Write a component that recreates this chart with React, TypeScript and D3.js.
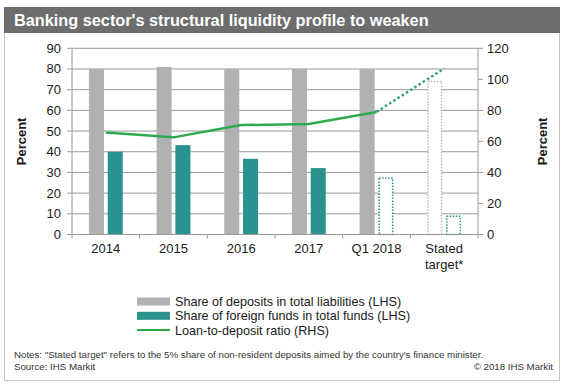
import React from 'react';
import * as d3 from 'd3';

const categories = ['2014', '2015', '2016', '2017', 'Q1 2018', 'Stated target*'];
const depositsShare = [80, 81, 80, 80, 80, 74];
const foreignFunds = [40, 43.2, 36.6, 32.1, 27.3, 8.8];
const loanToDeposit = [65.8, 62.6, 70.5, 71.2, 79, 107];
// which points are projections (drawn dotted)
const depositsProjected = [false, false, false, false, false, true];
const foreignProjected = [false, false, false, false, true, true];
const leftTicks = [0, 10, 20, 30, 40, 50, 60, 70, 80, 90];
const rightTicks = [0, 20, 40, 60, 80, 100, 120];
const legendItems = [
    { label: 'Share of deposits in total liabilities (LHS)', type: 'bar', color: '#b1b1b4' },
    { label: 'Share of foreign funds in total funds (LHS)', type: 'bar', color: '#2b938f' },
    { label: 'Loan-to-deposit ratio (RHS)', type: 'line', color: '#2eaa4e' },
];

const W = 564;
const H = 386;
const FONT = 'Liberation Sans, Arial, sans-serif';
const GREY = '#b1b1b4';
const TEAL = '#2b938f';
const GREEN = '#2eaa4e';
const DOTTED_GREEN = '#35a176';

const App = () => {
    const x0 = 72;
    const x1 = 478;
    const yTop = 48.3;
    const yBottom = 234.5;

    const x = d3.scaleBand().domain(categories).range([x0, x1]).padding(0);
    const group = d3.scaleBand().domain(['dep', 'for']).range([0, x.bandwidth() * 0.5]).paddingInner(0.2);
    const groupOffset = x.bandwidth() * 0.25;
    const yLeft = d3.scaleLinear().domain([0, 90]).range([yBottom, yTop]);
    const yRight = d3.scaleLinear().domain([0, 120]).range([yBottom, yTop]);

    const cx = (c) => x(c) + x.bandwidth() / 2;
    const linePts = categories.map((c, i) => [cx(c), yRight(loanToDeposit[i])]);
    const line = d3.line();
    const solidPts = linePts.slice(0, 5);
    const dottedPts = linePts.slice(4);

    const boundaries = categories.map((c) => x(c)).concat([x1]);

    return (
        <div style={{ position: 'absolute', left: 0, top: 0 }}>
            <svg width={W} height={H} style={{ display: 'block', fontFamily: FONT }}>
                <rect x={0} y={0} width={W} height={H} fill="#fff" />
                {/* frame */}
                <rect x={4.5} y={7.5} width={555} height={373} fill="#fff" stroke="#c8c8c8" />
                <rect x={4} y={7} width={556} height={26} fill="#6d6d6d" />
                <text x={14} y={26} fill="#fff" fontSize={16.3} fontWeight="bold">
                    Banking sector's structural liquidity profile to weaken
                </text>

                {/* gridlines */}
                {leftTicks.slice(1).map((t) => (
                    <line key={t} x1={x0} x2={x1} y1={yLeft(t)} y2={yLeft(t)} stroke="#9a9a9a" strokeWidth={1} />
                ))}

                {/* bars */}
                {categories.map((c, i) => {
                    const bx = x(c) + groupOffset;
                    const bw = group.bandwidth();
                    const dep = depositsShare[i];
                    const fr = foreignFunds[i];
                    return (
                        <g key={c}>
                            {depositsProjected[i] ? (
                                <rect x={bx + group('dep') + 0.75} y={yLeft(dep)} width={bw - 1.5} height={yBottom - yLeft(dep)}
                                    fill="#fff" stroke="#b9b9bc" strokeWidth={1.5} strokeDasharray="1.5,1.5" />
                            ) : (
                                <rect x={bx + group('dep')} y={yLeft(dep)} width={bw} height={yBottom - yLeft(dep)} fill={GREY} />
                            )}
                            {foreignProjected[i] ? (
                                <rect x={bx + group('for') + 0.75} y={yLeft(fr)} width={bw - 1.5} height={yBottom - yLeft(fr)}
                                    fill="#fff" stroke={TEAL} strokeWidth={1.5} strokeDasharray="1.5,1.5" />
                            ) : (
                                <rect x={bx + group('for')} y={yLeft(fr)} width={bw} height={yBottom - yLeft(fr)} fill={TEAL} />
                            )}
                        </g>
                    );
                })}

                {/* loan-to-deposit line */}
                <path d={line(solidPts)} fill="none" stroke={GREEN} strokeWidth={2.5} />
                <path d={line(dottedPts)} fill="none" stroke={DOTTED_GREEN} strokeWidth={2.5} strokeDasharray="2.5,2.5" />

                {/* axes */}
                <line x1={x0} x2={x0} y1={yTop} y2={yBottom} stroke="#9a9a9a" />
                <line x1={x1} x2={x1} y1={yTop} y2={yBottom} stroke="#9a9a9a" />
                <line x1={x0} x2={x1} y1={yBottom} y2={yBottom} stroke="#9a9a9a" />
                {leftTicks.map((t) => (
                    <g key={t}>
                        <line x1={x0 - 5} x2={x0} y1={yLeft(t)} y2={yLeft(t)} stroke="#9a9a9a" />
                        <text x={61} y={yLeft(t) + 4.5} textAnchor="end" fontSize={13} fill="#1a1a1a">{t}</text>
                    </g>
                ))}
                {rightTicks.map((t) => (
                    <g key={t}>
                        <line x1={x1} x2={x1 + 5} y1={yRight(t)} y2={yRight(t)} stroke="#9a9a9a" />
                        <text x={487} y={yRight(t) + 4.5} fontSize={13} fill="#1a1a1a">{t}</text>
                    </g>
                ))}
                {boundaries.map((b, i) => (
                    <line key={i} x1={b} x2={b} y1={yBottom} y2={yBottom + 4} stroke="#9a9a9a" />
                ))}
                {categories.map((c) => {
                    const parts = c === 'Stated target*' ? ['Stated', 'target*'] : [c];
                    return (
                        <text key={c} x={cx(c)} y={253} textAnchor="middle" fontSize={13} fill="#1a1a1a">
                            {parts.map((p, j) => (
                                <tspan key={p} x={cx(c)} dy={j === 0 ? 0 : 16}>{p}</tspan>
                            ))}
                        </text>
                    );
                })}
                <text transform={`translate(26,${(yTop + yBottom) / 2}) rotate(-90)`} textAnchor="middle"
                    fontSize={13} fontWeight="bold" fill="#1a1a1a">Percent</text>
                <text transform={`translate(547,${(yTop + yBottom) / 2}) rotate(-90)`} textAnchor="middle"
                    fontSize={13} fontWeight="bold" fill="#1a1a1a">Percent</text>

                {/* legend */}
                {legendItems.map((d, i) => {
                    const ly = 301.5 + i * 14.3;
                    return (
                        <g key={d.label}>
                            {d.type === 'bar' ? (
                                <rect x={137} y={ly - 4} width={33} height={8} fill={d.color} />
                            ) : (
                                <line x1={137} x2={170} y1={ly} y2={ly} stroke={d.color} strokeWidth={2} />
                            )}
                            <text x={175} y={ly + 4.5} fontSize={12.6} fill="#1a1a1a">{d.label}</text>
                        </g>
                    );
                })}

                {/* notes */}
                <text x={14} y={358} fontSize={9.7} fill="#333">
                    Notes: "Stated target" refers to the 5% share of non-resident deposits aimed by the country's finance minister.
                </text>
                <text x={14} y={369.5} fontSize={9.7} fill="#333">Source: IHS Markit</text>
                <text x={553} y={369.5} fontSize={9.7} fill="#333" textAnchor="end">© 2018 IHS Markit</text>
            </svg>
        </div>
    );
};

export default App;
